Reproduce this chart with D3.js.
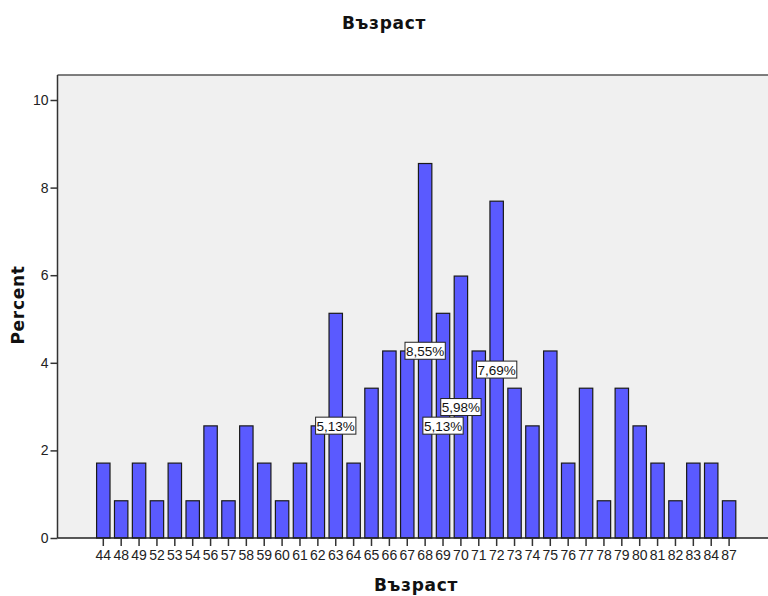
<!DOCTYPE html>
<html><head><meta charset="utf-8">
<script src="https://cdn.jsdelivr.net/npm/d3@7"></script>
<style>
body{margin:0;background:#fff;}
.ttl{font-family:"DejaVu Sans",Verdana,sans-serif;font-weight:bold;font-size:17px;letter-spacing:0.7px;fill:#111;}
.tk{font-family:Arial,"Liberation Sans",sans-serif;font-size:14px;fill:#222;}
.dl{font-family:Arial,"Liberation Sans",sans-serif;font-size:13.5px;fill:#111;}
</style></head>
<body><svg id="c" width="768" height="596"></svg>
<script>
const ages = ["44","48","49","52","53","54","56","57","58","59","60","61","62","63","64","65","66","67","68","69","70","71","72","73","74","75","76","77","78","79","80","81","82","83","84","87"];
const percents = [1.71,0.85,1.71,0.85,1.71,0.85,2.56,0.85,2.56,1.71,0.85,1.71,2.56,5.13,1.71,3.42,4.27,4.27,8.55,5.13,5.98,4.27,7.69,3.42,2.56,4.27,1.71,3.42,0.85,3.42,2.56,1.71,0.85,1.71,1.71,0.85];
const labelledAges = ["63","68","69","70","72"];
const yTicks = [0,2,4,6,8,10];
const titleText = "Възраст";
const xTitle = "Възраст";
const yTitle = "Percent";

const svg = d3.select("#c");
const pLeft = 57.5, pTop = 75, pBottom = 538, pRight = 768;

const step = 17.88;
const x = d3.scaleBand().domain(ages)
  .range([103.3 - step/2, 103.3 - step/2 + step*ages.length])
  .paddingInner(0.25).paddingOuter(0.125);
const y = d3.scaleLinear().domain([0,10]).range([pBottom, 100]);

// plot background
svg.append("rect").attr("x",pLeft).attr("y",pTop).attr("width",pRight-pLeft+5).attr("height",pBottom-pTop)
  .attr("fill","#f0f0f0");
svg.append("line").attr("x1",pLeft).attr("x2",pRight+5).attr("y1",pTop).attr("y2",pTop)
  .attr("stroke","#555").attr("stroke-width",1.5);

// bars
svg.append("g").selectAll("rect").data(ages).join("rect")
  .attr("x",d=>x(d)).attr("width",x.bandwidth())
  .attr("y",(d,i)=>y(percents[i])).attr("height",(d,i)=>y(0)-y(percents[i]))
  .attr("fill","#5a5aff").attr("stroke","#1a1a1a").attr("stroke-width",1.2);

// axes
const yAxis = d3.axisLeft(y).tickValues(yTicks).tickSize(7).tickFormat(d3.format("d"));
const gy = svg.append("g").attr("transform",`translate(${pLeft},0)`).call(yAxis);
gy.attr("font-size",null).attr("font-family",null);
gy.select(".domain").attr("d",`M0,${pTop}V${pBottom}`).attr("stroke","#333").attr("stroke-width",1.5);
gy.selectAll(".tick line").attr("stroke","#333").attr("stroke-width",1.5);
gy.selectAll(".tick text").attr("class","tk").attr("fill",null).attr("x",-9);

const xAxis = d3.axisBottom(x).tickSize(8).tickSizeOuter(0);
const gx = svg.append("g").attr("transform",`translate(0,${pBottom})`).call(xAxis);
gx.attr("font-size",null).attr("font-family",null);
gx.select(".domain").attr("d",`M${pLeft},0H${pRight+5}`).attr("stroke","#222").attr("stroke-width",1.5);
gx.selectAll(".tick line").attr("stroke","#333").attr("stroke-width",1.5);
gx.selectAll(".tick text").attr("class","tk").attr("fill",null).attr("y",12);

// data labels at mid-height
const fmt = v => v.toFixed(2).replace(".",",") + "%";
const lg = svg.append("g");
ages.forEach((a,i)=>{
  if(!labelledAges.includes(a)) return;
  const cx = x(a) + x.bandwidth()/2;
  const cy = y(percents[i]/2);
  const g = lg.append("g");
  const t = g.append("text").attr("class","dl").attr("x",cx).attr("y",cy+5).attr("text-anchor","middle")
    .text(fmt(percents[i]));
  const bb = t.node().getBBox();
  g.insert("rect","text").attr("x",bb.x-1).attr("y",cy-8.5).attr("width",bb.width+2).attr("height",17)
    .attr("fill","#fff").attr("stroke","#222").attr("stroke-width",1);
});

// titles
svg.append("text").attr("class","ttl").attr("x",384).attr("y",29).attr("text-anchor","middle").text(titleText);
svg.append("text").attr("class","ttl").attr("x",416).attr("y",591).attr("text-anchor","middle").text(xTitle);
svg.append("text").attr("class","ttl").attr("transform","translate(24,305) rotate(-90)").attr("text-anchor","middle").text(yTitle);
</script></body></html>
